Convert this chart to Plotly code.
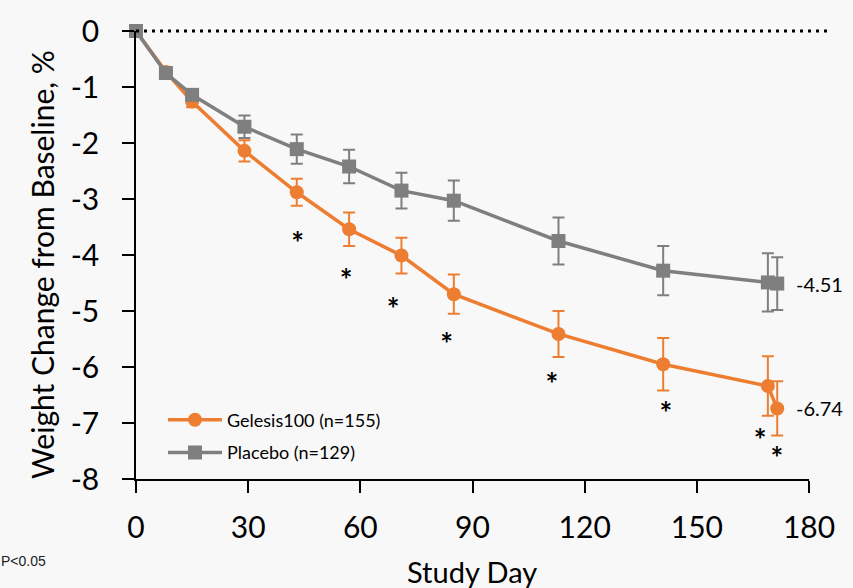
import plotly.graph_objects as go

# ---- data ----
days = [0, 8, 15, 29, 43, 57, 71, 85, 113, 141, 169, 171.5]
gelesis = [0, -0.73, -1.26, -2.14, -2.88, -3.54, -4.01, -4.70, -5.41, -5.95, -6.34, -6.74]
gelesis_err = [0, 0.06, 0.10, 0.19, 0.24, 0.30, 0.32, 0.35, 0.41, 0.47, 0.53, 0.485]
placebo = [0, -0.75, -1.14, -1.71, -2.11, -2.42, -2.85, -3.03, -3.75, -4.28, -4.49, -4.51]
placebo_err = [0, 0.05, 0.08, 0.20, 0.26, 0.30, 0.32, 0.36, 0.42, 0.44, 0.52, 0.47]

star_days = [43.2, 56.2, 68.8, 83.1, 111.2, 141.7, 166.9, 171.4]
star_vals = [-3.85, -4.51, -5.02, -5.65, -6.37, -6.89, -7.37, -7.69]

x_ticks = [0, 30, 60, 90, 120, 150, 180]
y_ticks = [0, -1, -2, -3, -4, -5, -6, -7, -8]

final_labels = [("-4.51", -4.51), ("-6.74", -6.74)]

ORANGE = "#ED7D31"
GRAY = "#7F7F7F"
FONT = "Lato"

fig = go.Figure()

fig.add_trace(go.Scatter(
    x=days, y=gelesis, name="Gelesis100 (n=155)", mode="lines+markers",
    line=dict(color=ORANGE, width=3.5),
    marker=dict(symbol="circle", size=14, color=ORANGE),
    error_y=dict(type="data", array=gelesis_err, color=ORANGE, thickness=2, width=6),
    cliponaxis=False, legend="legend",
))
fig.add_trace(go.Scatter(
    x=days, y=placebo, name="Placebo (n=129)", mode="lines+markers",
    line=dict(color=GRAY, width=3.5),
    marker=dict(symbol="square", size=14, color=GRAY),
    error_y=dict(type="data", array=placebo_err, color=GRAY, thickness=2, width=6),
    cliponaxis=False, legend="legend2",
))
fig.add_trace(go.Scatter(
    x=star_days, y=star_vals, mode="text", text=["<b>*</b>"] * len(star_days),
    textposition="middle center", textfont=dict(family=FONT, size=30, color="black"),
    showlegend=False, cliponaxis=False, hoverinfo="skip",
))

# dotted zero line (extends a little past the axis end)
fig.add_shape(type="line", xref="paper", yref="paper", x0=0, x1=1.032, y0=1, y1=1,
              line=dict(color="black", width=3, dash="3px,5px"), layer="above")

for txt, val in final_labels:
    fig.add_annotation(x=176.0, y=val, text=txt, showarrow=False, xanchor="left",
                       yanchor="middle", font=dict(family=FONT, size=20, color="black"))

# axis titles
fig.add_annotation(xref="paper", yref="paper", x=(472 - 136) / 673, y=(479 - 571) / 448,
                   text="Study Day", showarrow=False, xanchor="center", yanchor="middle",
                   font=dict(family=FONT, size=29, color="black"))
fig.add_annotation(xref="paper", yref="paper", x=(42 - 136) / 673, y=(479 - 265) / 448,
                   text="Weight Change from Baseline, %", showarrow=False, textangle=-90,
                   xanchor="center", yanchor="middle",
                   font=dict(family=FONT, size=30, color="black"))
fig.add_annotation(xref="paper", yref="paper", x=(-1 - 136) / 673, y=(479 - 561) / 448,
                   text="P<0.05", showarrow=False, xanchor="left", yanchor="middle",
                   font=dict(family="Liberation Sans", size=14, color="#222222"))

fig.update_layout(
    width=853, height=588,
    margin=dict(l=136, r=44, t=31, b=109),
    paper_bgcolor="#f8f8f8", plot_bgcolor="#f8f8f8",
    font=dict(family=FONT, color="black"),
    showlegend=True,
    legend=dict(x=(163 - 136) / 673, y=(479 - 420) / 448, xanchor="left", yanchor="middle",
                bgcolor="rgba(0,0,0,0)", font=dict(family=FONT, size=18), itemwidth=54),
    legend2=dict(x=(163 - 136) / 673, y=(479 - 452.7) / 448, xanchor="left", yanchor="middle",
                 bgcolor="rgba(0,0,0,0)", font=dict(family=FONT, size=18), itemwidth=54),
    xaxis=dict(range=[0, 180], tickvals=x_ticks, ticktext=[str(v) for v in x_ticks],
               showgrid=False, zeroline=False, showline=True, linecolor="black", linewidth=1.5,
               ticks="outside", ticklen=12, tickwidth=1.5, tickcolor="black",
               tickfont=dict(family=FONT, size=30), ticklabelstandoff=9),
    yaxis=dict(range=[-8, 0], tickvals=y_ticks, ticktext=[str(v) for v in y_ticks],
               showgrid=False, zeroline=False, showline=True, linecolor="black", linewidth=1.5,
               ticks="outside", ticklen=12, tickwidth=1.5, tickcolor="black",
               tickfont=dict(family=FONT, size=30), ticklabelstandoff=17),
)

fig.write_html("out.html", config={"displayModeBar": False},
               post_script="document.body.style.margin='0px';")
